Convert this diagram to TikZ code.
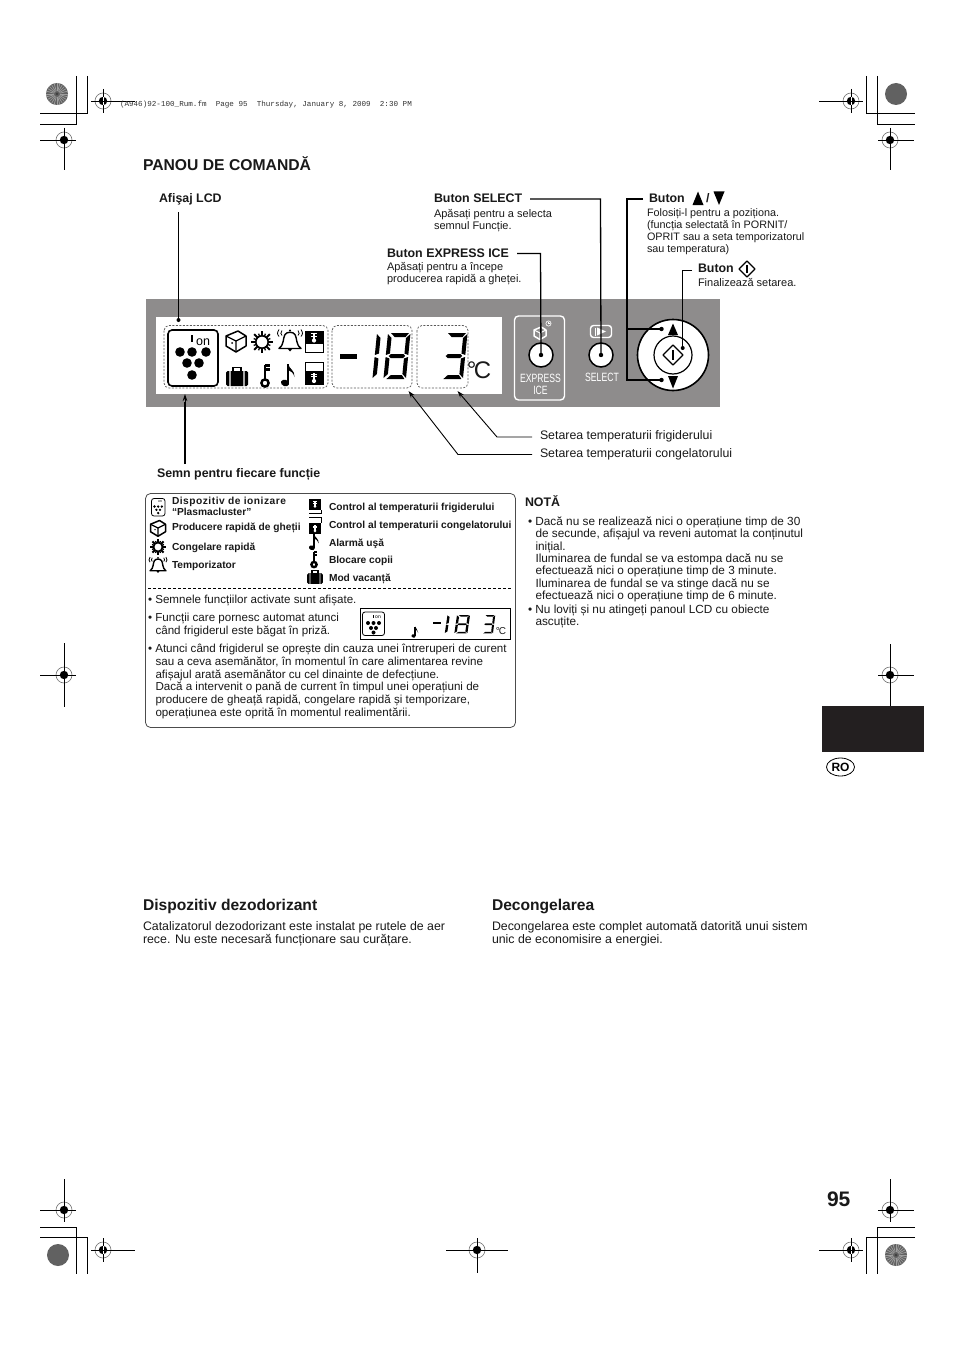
\documentclass[tikz,border=0pt]{standalone}
\usepackage{fontspec}
\setmainfont{Liberation Sans}
\newfontfamily\hdrfont{Liberation Mono}
\usetikzlibrary{arrows.meta,shapes.geometric}
\definecolor{panelgray}{HTML}{8E8C8C}
\definecolor{tabblack}{HTML}{231F20}
\newcommand{\fsz}[2]{\fontsize{#1}{#2}\selectfont}
\tikzset{
 x=1pt,y=-1pt,
 txt/.style={anchor=base west,inner sep=0pt,outer sep=0pt,align=left,text=black!90},
 body/.style={txt,font=\fsz{11.6}{12.65}},
 notebody/.style={txt,font=\fsz{11.8}{12.35}},
 big/.style={txt,font=\fsz{12.35}{12.6}},
 small/.style={txt,font=\fsz{11}{12}},
 lab/.style={txt,font=\fsz{12.4}{13}\bfseries},
 leg/.style={txt,font=\fsz{10.2}{11.5}\bfseries},
 head/.style={txt,font=\fsz{15.6}{17}\bfseries},
 panelwhite/.style={txt,anchor=center,text=white,font=\fsz{12}{12},xscale=.72,transform shape},
 leader/.style={draw=black,line width=1.3pt},
 thinleader/.style={draw=black,line width=.8pt},
 pointer/.style={draw=black,line width=.9pt,-{Stealth[length=7pt,width=4.5pt]}},
 dotted box/.style={draw=black!65,line width=.7pt,dash pattern=on 2pt off 1.5pt,rounded corners=5pt},
 crop/.style={draw=black,line width=.9pt},
 pics/regmark/.style={code={
   \draw[black!55,line width=.6pt,fill=white] (0,0) circle (8);
   \fill[black] (0,0) circle (4.2);
   \draw[black,line width=.9pt] (-12,0) -- (12,0) (0,-12) -- (0,12);
   \draw[white,line width=.7pt] (-4.2,0) -- (4.2,0) (0,-4.2) -- (0,4.2);
 }},
 pics/cubeicon/.style={code={
   \draw[line width=1.5pt,line join=round,fill=white] (-10,-5) -- (2,-10) -- (10,-5) -- (10,5) -- (0,11) -- (-10,5) -- cycle;
   \draw[line width=1.2pt,line join=round] (-10,-5) -- (0,0) -- (10,-5) (0,0) -- (0,11);
   \fill (-4,2) circle (1);
 }},
 pics/snowicon/.style={code={
   \foreach \a in {0,45,...,315} {\draw[line width=2.1pt] (\a:4) -- (\a:11);}
   \foreach \a in {22.5,67.5,...,337.5} {\draw[line width=1.3pt] (\a:5) -- (\a:9);}
   \draw[line width=1.6pt,fill=white] (0,0) circle (6.2);
 }},
 pics/bellicon/.style={code={
   \draw[line width=1.4pt,fill=white,line join=round] (-11,8) .. controls (-6,5) and (-7,-3) .. (-5,-6) .. controls (-3,-9) and (3,-9) .. (5,-6) .. controls (7,-3) and (6,5) .. (11,8) -- cycle;
   \fill (-2.5,8) -- (2.5,8) -- (0,11) -- cycle;
   \fill (0,-10) circle (1.2);
   \foreach \s in {-1,1} {
     \draw[line width=.8pt] (\s*8,-5) .. controls (\s*9.5,-7) .. (\s*8,-10);
     \draw[line width=.8pt] (\s*11,-4) .. controls (\s*13,-7) .. (\s*11,-11);
   }
 }},
 pics/keyicon/.style={code={
   \draw[line width=2.4pt] (0,3) -- (0,-11) (0,-10.5) -- (4.5,-10.5) (0,-6.5) -- (4.5,-6.5);
   \draw[line width=2.4pt] (0,7) circle (3.6);
 }},
 pics/noteicon/.style={code={
   \fill[rotate around={-20:(-3,8)}] (-3,8) ellipse (4.2 and 3.2);
   \draw[line width=1.6pt] (0.2,8) -- (0.2,-11);
   \fill (0.2,-11) .. controls (1,-6) and (7,-5) .. (6.5,2) .. controls (5.5,-2) and (3,-4) .. (0.2,-5) -- cycle;
 }},
 pics/caseicon/.style={code={
   \fill[rounded corners=1.5pt] (-11,-6) rectangle (11,9);
   \draw[line width=1.6pt] (-4,-6) -- (-4,-9.5) -- (4,-9.5) -- (4,-6);
   \fill[white] (-7.6,-7) rectangle (-6.4,10) (6.4,-7) rectangle (7.6,10);
 }},
 pics/thermo/.style={code={
   \draw[white,line width=1.6pt] (0,-4.5) -- (0,3.5);
   \fill[white] (0,3.5) circle (2.1);
   \draw[white,line width=.7pt] (-3,-3.5) -- (3,-3.5) (-3,-1) -- (3,-1);
 }},
 pics/plasmaicon/.style={code={
   \draw[rounded corners=4pt,line width=1.6pt,fill=white] (-25,-28) rectangle (25,28);
   \foreach \p in {(-13,-6),(-1,-6),(13,-6),(-6,5),(6,5),(-1,17)} {\fill \p circle (4.8);}
   \draw[line width=1.6pt] (-1,-23) -- (-1,-16);
   \node[inner sep=0pt,font=\fsz{12.5}{12}] (ontxt) at (10,-16) {on};
 }},
}
\newcommand{\segA}{(3,0) -- (21,0) -- (18,4) -- (7,4) -- cycle}
\newcommand{\segB}{(22.5,1) -- (22.5,22) -- (18.5,20.5) -- (18.5,5) -- cycle}
\newcommand{\segC}{(22.5,24) -- (22.5,45) -- (18.5,41) -- (18.5,25.5) -- cycle}
\newcommand{\segD}{(3,46) -- (21,46) -- (18,42) -- (7,42) -- cycle}
\newcommand{\segE}{(0,24) -- (4,25.5) -- (4,41) -- (0,45) -- cycle}
\newcommand{\segF}{(0,1) -- (4,5) -- (4,20.5) -- (0,22) -- cycle}
\newcommand{\segG}{(5,21) -- (17.5,21) -- (19.5,23) -- (17.5,25) -- (5,25) -- (3,23) -- cycle}
% eight / one / three : x, y, x-scale, y-scale
\newcommand{\lcdeight}[4]{\begin{scope}[shift={(#1,#2)},xscale=#3,yscale=#4,xslant=.1]
  \fill \segA; \fill \segB; \fill \segC; \fill \segD; \fill \segE; \fill \segF; \fill \segG;
 \end{scope}}
\newcommand{\lcdthree}[4]{\begin{scope}[shift={(#1,#2)},xscale=#3,yscale=#4,xslant=.1]
  \fill \segA; \fill \segB; \fill \segC; \fill \segD; \fill \segG;
 \end{scope}}
\newcommand{\lcdone}[4]{\begin{scope}[shift={(#1,#2)},xscale=#3,yscale=#4,xslant=.1]
  \fill \segE; \fill \segF;
 \end{scope}}
\begin{document}
\begin{tikzpicture}
\useasboundingbox (0,0) rectangle (954,1351);
\fill[white] (0,0) rectangle (954,1351);

% ---- printer's marks
\draw[crop] (76.5,76) -- (76.5,124) -- (40,124);
\draw[crop] (87.5,76) -- (87.5,113) -- (40,113);
\draw[crop] (866.5,76) -- (866.5,113) -- (915,113);
\draw[crop] (877.5,76) -- (877.5,124) -- (915,124);
\draw[crop] (40,1227) -- (76.5,1227) -- (76.5,1274);
\draw[crop] (40,1237) -- (87.5,1237) -- (87.5,1274);
\draw[crop] (915,1237) -- (866.5,1237) -- (866.5,1274);
\draw[crop] (915,1227) -- (877.5,1227) -- (877.5,1274);
\pic at (103,101) {regmark};
\pic at (64,140) {regmark};
\pic at (851,101) {regmark};
\pic at (890,140) {regmark};
\pic at (64,675) {regmark};
\pic at (890,675) {regmark};
\pic at (64,1210) {regmark};
\pic at (103,1250) {regmark};
\pic at (477,1250) {regmark};
\pic at (890,1210) {regmark};
\pic at (851,1250) {regmark};
\draw[crop] (91,101) -- (135,101) (91,1250) -- (135,1250);
\draw[crop] (819,101) -- (863,101) (819,1250) -- (863,1250);
\draw[crop] (40,140) -- (76,140) (40,1210) -- (76,1210);
\draw[crop] (878,140) -- (914,140) (878,1210) -- (914,1210);
\draw[crop] (64,128) -- (64,170) (64,1179) -- (64,1222);
\draw[crop] (890,128) -- (890,170) (890,1179) -- (890,1222);
\draw[crop] (40,675) -- (76,675) (878,675) -- (914,675);
\draw[crop] (64,643) -- (64,707) (890,644) -- (890,706);
\draw[crop] (446,1250) -- (508,1250) (477,1238) -- (477,1273);
\fill[black!62] (57,94) circle (11) (896,1255) circle (11);
\foreach \c in {(57,94),(896,1255)} {
  \foreach \a in {0,15,...,345} {\draw[black!38,line width=.7pt] \c ++(\a:3) -- ++(\a:8);}
  \fill[black!75] \c circle (1.5);
}
\fill[black!62] (896,94) circle (11) (58,1255) circle (11);

\node[txt,font=\hdrfont\fsz{7.6}{9},text=black!80] (hdr) at (120,107) {(A946)92-100\_Rum.fm\ \ Page 95\ \ Thursday, January 8, 2009\ \ 2:30 PM};

% ---- title
\node[txt,font=\fsz{15.7}{18}\bfseries] (title) at (143,171) {PANOU DE COMANDĂ};

% ---- panel
\fill[panelgray] (146,299) rectangle (720,407);
\fill[white] (156,317) rectangle (502,394);
\draw[dotted box] (164,325.5) rectangle (328,388);
\draw[dotted box] (332,325.5) rectangle (412,388);
\draw[dotted box] (417,325.5) rectangle (468,388);
\pic at (193,358) {plasmaicon};
\pic at (236,341) {cubeicon};
\pic at (262,342) {snowicon};
\pic at (290,340.5) {bellicon};
\pic at (237,377) {caseicon};
\pic at (265,376) {keyicon};
\pic at (288,375) {noteicon};
\draw[line width=1pt] (305,331) rectangle (323,352);
\fill (305,331) rectangle (323,344);
\pic at (314,337) {thermo};
\draw[line width=1pt] (305,362) rectangle (323,384);
\fill (305,371) rectangle (323,384);
\pic at (314,377.5) {thermo};
\fill (340,353.5) rectangle (357,358.5);
\lcdone{377}{333}{1}{1}
\lcdeight{388}{333}{1}{1}
\lcdthree{445}{333}{1}{1}
\node[txt,anchor=center,font=\fsz{24}{24}] (degc) at (479,370) {°\kern-2.5pt C};

% express ice
\draw[white,line width=1.4pt,rounded corners=4pt] (514.5,316) rectangle (564.5,400);
\begin{scope}[shift={(540,333)},scale=.6]
  \draw[white,line width=1.5pt,line join=round] (-10,-5) -- (2,-10) -- (10,-5) -- (10,5) -- (0,11) -- (-10,5) -- cycle;
  \draw[white,line width=1.1pt,line join=round] (-10,-5) -- (0,0) -- (10,-5) (0,0) -- (0,11);
\end{scope}
\draw[white,line width=.6pt] (548.5,323.5) circle (2.6) (548.5,322) -- (548.5,323.5) -- (550,323.5);
\node[circle,draw=black,fill=white,line width=1.5pt,minimum size=24pt,inner sep=0pt] (expressbtn) at (541,355) {};
\node[panelwhite] (exptxt) at (540.5,378.5) {EXPRESS};
\node[panelwhite] (icetxt) at (540.5,390.5) {ICE};

% select
\draw[white,line width=1.4pt,rounded corners=3pt] (590.5,325.5) rectangle (611.5,337.5);
\fill[white] (597,327.5) -- (597,335.5) -- (606,331.5) -- cycle;
\draw[white,line width=.8pt] (595,327.5) -- (595,335.5);
\node[circle,draw=black,fill=white,line width=1.5pt,minimum size=24pt,inner sep=0pt] (selectbtn) at (601,355) {};
\node[panelwhite] (seltxt) at (602,377) {SELECT};

% dial
\node[circle,draw=black,fill=white,line width=1.6pt,minimum size=71pt,inner sep=0pt] (dial) at (673,355) {};
\node[circle,draw=black,fill=white,line width=1.2pt,minimum size=38pt,inner sep=0pt] (dialin) at (673,355) {};
\draw[line width=1.3pt,line join=round,fill=white] (673,345) -- (683,355) -- (673,365) -- (663,355) -- cycle;
\draw[line width=1.4pt] (673,350) -- (673,360);
\fill (673,323.5) -- (678,335) -- (668,335) -- cycle;
\fill (673,388.5) -- (678,376) -- (668,376) -- cycle;

% ---- leaders
\coordinate (afistop) at (178.5,212);
\coordinate (afisdot) at (178.5,320);
\draw[thinleader] (afistop) -- (afisdot);
\fill (afisdot) circle (2);
\coordinate (semnbot) at (185,464);
\coordinate (semntip) at (185,394);
\draw[leader] (semnbot) -- (185,402);
\draw[black,line width=.8pt,-{Stealth[length=7pt,width=4.5pt]}] (185,402) -- (semntip);
\coordinate (expstart) at (517,253.5);
\draw[leader] (expstart) -- (540.5,253.5) -- (expressbtn.center);
\fill (expressbtn.center) circle (2.2);
\coordinate (selstart) at (530,199);
\draw[leader] (selstart) -- (600.5,199) -- (selectbtn.center);
\fill (selectbtn.center) circle (2.2);
\coordinate (upstart) at (643,199);
\coordinate (updot) at (661.5,329);
\coordinate (dndot) at (661.5,380);
\draw[leader] (upstart) -- (627,199) -- (627,380) -- (dndot);
\draw[leader] (627,329) -- (updot);
\fill (updot) circle (2.2) (dndot) circle (2.2);
\coordinate (okstart) at (692,270);
\coordinate (okdot) at (682.7,348);
\draw[thinleader] (okstart) -- (682.7,270) -- (okdot);
\fill (okdot) circle (2);
\coordinate (frstart) at (532,437);
\coordinate (frtip) at (457.5,391);
\draw[pointer] (frstart) -- (497,437) -- (frtip);
\coordinate (czstart) at (532,454.5);
\coordinate (cztip) at (408.5,391);
\draw[pointer] (czstart) -- (458,454.5) -- (cztip);

% ---- labels (multi-line nodes are placed by their last baseline)
\node[lab] (lcd) at (159,202) {Afişaj LCD};
\node[lab] (btsel) at (434,203) {Buton SELECT};
\node[small] (btseld) at (434,229.5) {Apăsați pentru a selecta\\semnul Funcție.};
\node[lab] (btexp) at (387,257) {Buton EXPRESS ICE};
\node[small] (btexpd) at (387,282.5) {Apăsați pentru a începe\\producerea rapidă a gheței.};
\node[lab] (btup) at (649,202) {Buton};
\fill (698,191.5) -- (703.5,205) -- (692.5,205) -- cycle;
\node[lab] (slash) at (706,202) {/};
\fill (719,205) -- (724.5,191.5) -- (713.5,191.5) -- cycle;
\node[small,font=\fsz{10.8}{12}] (btupd) at (647,252) {Folosiți-l pentru a poziționa.\\(funcția selectată în PORNIT/\\OPRIT sau a seta temporizatorul\\sau temperatura)};
\node[lab] (btok) at (698,272) {Buton};
\draw[line width=1.2pt,line join=round] (747,261) -- (755,269) -- (747,277) -- (739,269) -- cycle;
\draw[line width=1.2pt] (747,265) -- (747,273);
\node[small] (btokd) at (698,286) {Finalizează setarea.};
\node[big] (setfr) at (540,439) {Setarea temperaturii frigiderului};
\node[big] (setcz) at (540,457) {Setarea temperaturii congelatorului};
\node[lab] (semn) at (157,477) {Semn pentru fiecare funcție};

% ---- legend box
\draw[black!70,line width=.8pt,rounded corners=5pt] (145.5,493.5) rectangle (515.5,727.5);
\draw[black,line width=.7pt,dash pattern=on 3pt off 2pt] (148,588.5) -- (512,588.5);
\draw[rounded corners=2.5pt,line width=.8pt] (151.5,498.5) rectangle (165,516);
\foreach \p in {(154.5,506.5),(158.2,506.5),(161.8,506.5),(156.4,509.8),(160,509.8),(158.2,513)} {\fill \p circle (1.3);}
\node[inner sep=0pt,font=\fsz{3.5}{4}] (legon) at (160,502) {on};
\pic[scale=.75] at (158,528) {cubeicon};
\pic[scale=.72] at (158,547) {snowicon};
\pic[scale=.72] at (158,565) {bellicon};
\node[leg] (l1) at (172,515.5) {\addfontfeature{LetterSpace=5}Dispozitiv de ionizare\\“Plasmacluster”};
\node[leg] (l2) at (172,530.5) {Producere rapidă de gheții};
\node[leg] (l3) at (172,550) {Congelare rapidă};
\node[leg] (l4) at (172,568) {Temporizator};
\fill (309,499) rectangle (321,510);
\pic[scale=.7] at (315,504) {thermo};
\draw[line width=.8pt] (309,513) -- (321,513) -- (321,510);
\draw[line width=.8pt] (309,517.5) -- (321,517.5) -- (321,523);
\fill (309,523) rectangle (321,534);
\pic[scale=.7] at (315,528.5) {thermo};
\pic[scale=.72] at (314,542) {noteicon};
\pic[scale=.72] at (314,559.5) {keyicon};
\pic[scale=.72] at (315,577.5) {caseicon};
\node[leg] (r1) at (329,510) {Control al temperaturii frigiderului};
\node[leg] (r2) at (329,528) {Control al temperaturii congelatorului};
\node[leg] (r3) at (329,546) {Alarmă uşă};
\node[leg] (r4) at (329,563) {Blocare copii};
\node[leg] (r5) at (329,581) {Mod vacanță};

\node[body] (b1) at (148,603) {• Semnele funcțiilor activate sunt afișate.};
\node[body] (b2) at (148,634) {• Funcții care pornesc automat atunci\\\hspace*{7.5pt}când frigiderul este băgat în priză.};
\node[body] (b3) at (148,716) {• Atunci când frigiderul se oprește din cauza unei întreruperi de curent\\\hspace*{7.5pt}sau a ceva asemănător, în momentul în care alimentarea revine\\\hspace*{7.5pt}afișajul arată asemănător cu cel dinainte de defecțiune.\\\hspace*{7.5pt}Dacă a intervenit o pană de current în timpul unei operațiuni de\\\hspace*{7.5pt}producere de gheață rapidă, congelare rapidă și temporizare,\\\hspace*{7.5pt}operațiunea este oprită în momentul realimentării.};

% mini display
\draw[line width=.9pt] (360,608.5) rectangle (510.5,639);
\draw[line width=.8pt,rounded corners=2.5pt] (362.5,612) rectangle (384.5,635.5);
\foreach \p in {(368,623),(373.5,623),(379,623),(371,628),(376,628),(373.5,632.5)} {\fill \p circle (2);}
\draw[line width=.5pt] (373.5,615) -- (373.5,618);
\node[inner sep=0pt,font=\fsz{5}{5}] (minion) at (378,617) {on};
\pic[scale=.5] at (415,632) {noteicon};
\fill (433,621.8) rectangle (441,624.2);
\lcdone{447.5}{615}{.6}{.4}
\lcdeight{457}{615}{.58}{.4}
\lcdthree{484}{615}{.5}{.4}
\node[txt,anchor=center,font=\fsz{10}{11}] (minic) at (501,631) {°\kern-1pt C};

% ---- note
\node[lab] (nota) at (525,506.5) {NOTĂ};
\node[notebody] (n1) at (528,599.5) {• Dacă nu se realizează nici o operațiune timp de 30\\\hspace*{7.5pt}de secunde, afișajul va reveni automat la conținutul\\\hspace*{7.5pt}inițial.\\\hspace*{7.5pt}Iluminarea de fundal se va estompa dacă nu se\\\hspace*{7.5pt}efectuează nici o operațiune timp de 3 minute.\\\hspace*{7.5pt}Iluminarea de fundal se va stinge dacă nu se\\\hspace*{7.5pt}efectuează nici o operațiune timp de 6 minute.};
\node[notebody] (n2) at (528,625.5) {• Nu loviți și nu atingeți panoul LCD cu obiecte\\\hspace*{7.5pt}ascuțite.};

% ---- tab
\fill[tabblack] (822,706) rectangle (924,752);
\node[draw=black,ellipse,line width=.8pt,inner sep=0pt,minimum width=28pt,minimum height=18pt,font=\fsz{12}{12}\bfseries] (ro) at (840.5,767) {RO};

% ---- lower sections
\node[head] (h1) at (143,910) {Dispozitiv dezodorizant};
\node[big] (t1) at (143,943) {Catalizatorul dezodorizant este instalat pe rutele de aer\\rece. Nu este necesară funcționare sau curățare.};
\node[head] (h2) at (492,910) {Decongelarea};
\node[big] (t2) at (492,943) {Decongelarea este complet automată datorită unui sistem\\unic de economisire a energiei.};
\node[txt,font=\fsz{21}{22}\bfseries] (pg) at (827,1206) {95};
\end{tikzpicture}
\end{document}
